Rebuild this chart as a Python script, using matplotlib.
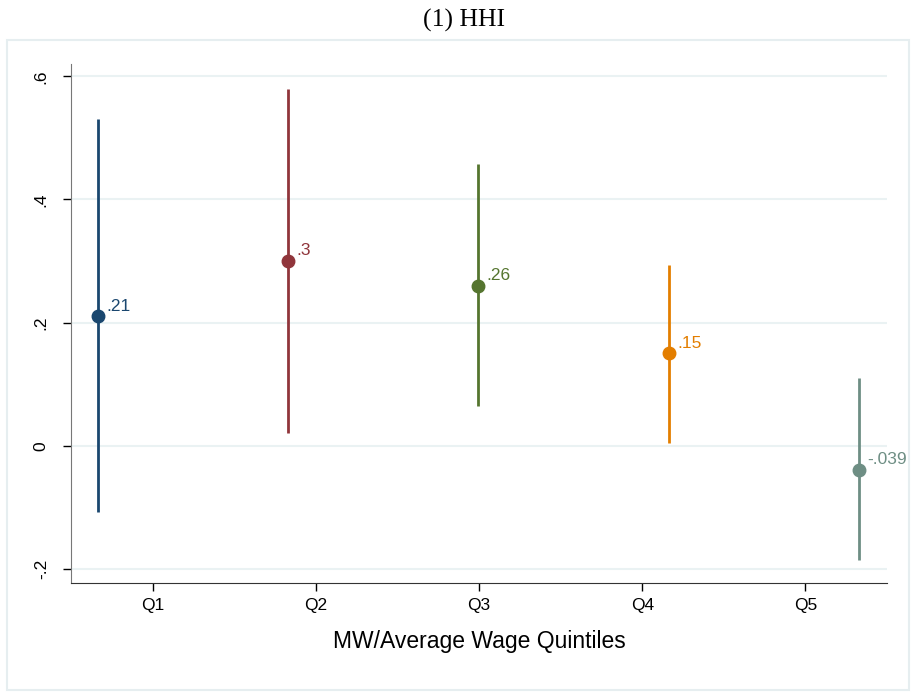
import matplotlib
matplotlib.use("Agg")
import matplotlib.pyplot as plt
import numpy as np
from matplotlib.patches import Rectangle

categories = ["Q1", "Q2", "Q3", "Q4", "Q5"]
estimates = [0.21, 0.30, 0.26, 0.15, -0.039]
ci_low = [-0.107, 0.021, 0.065, 0.005, -0.185]
ci_high = [0.530, 0.579, 0.458, 0.294, 0.110]
labels = [".21", ".3", ".26", ".15", "-.039"]
colors = ["#1a476f", "#90353b", "#55752f", "#e37e00", "#6e8e84"]
yticks = [-0.2, 0, 0.2, 0.4, 0.6]
yticklabels = ["-.2", "0", ".2", ".4", ".6"]

fig = plt.figure(figsize=(9.13, 6.93), dpi=100)
fig.patch.set_facecolor("white")

# outer frame
fig.patches.append(Rectangle((7 / 913, 1 - 690 / 693), 902 / 913, 650 / 693,
                             transform=fig.transFigure, facecolor="none",
                             edgecolor="#e6eef0", linewidth=1.5, zorder=-1))

ax = fig.add_axes([71 / 913, 1 - 583 / 693, (887 - 71) / 913, (583 - 64) / 693])
ax.set_facecolor("none")

tick_pos = np.arange(1, 6)
point_pos = np.linspace(0.663, 5.33, 5)

for xp, est, lo, hi, lab, col in zip(point_pos, estimates, ci_low, ci_high, labels, colors):
    ax.plot([xp, xp], [lo, hi], color=col, linewidth=2, solid_capstyle="butt", zorder=3)
    ax.plot([xp], [est], "o", color=col, markersize=9, zorder=4)
    ax.annotate(lab, (xp, est), xytext=(6, 2), textcoords="offset points",
                color=col, fontsize=12.5, family="Liberation Sans",
                ha="left", va="bottom", zorder=5)

ax.set_xlim(0.5, 5.5)
ax.set_ylim(-0.2228, 0.62)
ax.set_yticks(yticks)
ax.set_yticklabels(yticklabels, rotation=90, va="center", family="Liberation Sans", fontsize=12.5)
ax.set_xticks(tick_pos)
ax.set_xticklabels(categories, family="Liberation Sans", fontsize=12.5)
ax.grid(axis="y", color="#eaf2f3", linewidth=1.5, zorder=0)
ax.set_axisbelow(True)
for s in ["top", "right"]:
    ax.spines[s].set_visible(False)
ax.spines["left"].set_color("#777777")
ax.spines["bottom"].set_color("#333333")
ax.tick_params(axis="both", direction="out", length=6, width=1, color="black", pad=5)
ax.tick_params(axis="y", pad=10)
ax.set_xlabel("MW/Average Wage Quintiles", family="Liberation Sans", fontsize=16.5, labelpad=12)

fig.text(464 / 913, 1 - 20 / 693, "(1) HHI", ha="center", va="center",
         family="Liberation Serif", fontsize=18.5)

fig.savefig("out.png", dpi=100, facecolor="white")
